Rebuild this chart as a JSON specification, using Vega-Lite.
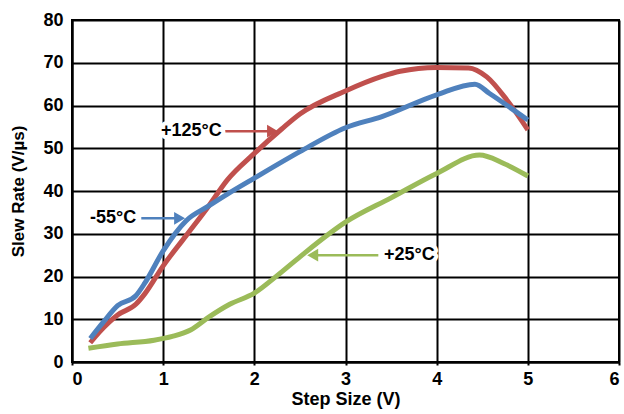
{
  "$schema": "https://vega.github.io/schema/vega-lite/v6.json",
  "autosize": "none",
  "width": 547,
  "height": 342,
  "padding": {"left": 72, "top": 20, "right": 5, "bottom": 52},
  "background": "white",
  "config": {
    "view": {"stroke": "black", "strokeWidth": 2},
    "font": "Liberation Sans"
  },
  "datasets": {
    "curves": [
      {"series": "+125°C", "step": 0.2, "rate": 4.5},
      {"series": "+125°C", "step": 0.3, "rate": 7},
      {"series": "+125°C", "step": 0.5, "rate": 11},
      {"series": "+125°C", "step": 0.7, "rate": 13.5},
      {"series": "+125°C", "step": 0.8, "rate": 16},
      {"series": "+125°C", "step": 1.0, "rate": 22.5},
      {"series": "+125°C", "step": 1.25, "rate": 29.5},
      {"series": "+125°C", "step": 1.5, "rate": 36.5},
      {"series": "+125°C", "step": 1.7, "rate": 42.5},
      {"series": "+125°C", "step": 2.0, "rate": 48.8},
      {"series": "+125°C", "step": 2.3, "rate": 54.5},
      {"series": "+125°C", "step": 2.5, "rate": 58},
      {"series": "+125°C", "step": 3.0, "rate": 63.4},
      {"series": "+125°C", "step": 3.4, "rate": 66.8},
      {"series": "+125°C", "step": 3.6, "rate": 68},
      {"series": "+125°C", "step": 4.0, "rate": 68.9},
      {"series": "+125°C", "step": 4.35, "rate": 68.8},
      {"series": "+125°C", "step": 4.55, "rate": 66.7},
      {"series": "+125°C", "step": 4.77, "rate": 61.3},
      {"series": "+125°C", "step": 5.0, "rate": 54.3},
      {"series": "-55°C", "step": 0.2, "rate": 5.5},
      {"series": "-55°C", "step": 0.35, "rate": 9.5},
      {"series": "-55°C", "step": 0.5, "rate": 13.2},
      {"series": "-55°C", "step": 0.7, "rate": 15.5},
      {"series": "-55°C", "step": 0.8, "rate": 18.5},
      {"series": "-55°C", "step": 1.0, "rate": 26},
      {"series": "-55°C", "step": 1.25, "rate": 33},
      {"series": "-55°C", "step": 1.5, "rate": 36.5},
      {"series": "-55°C", "step": 1.7, "rate": 39.2},
      {"series": "-55°C", "step": 2.0, "rate": 43},
      {"series": "-55°C", "step": 2.5, "rate": 49.2},
      {"series": "-55°C", "step": 3.0, "rate": 54.8},
      {"series": "-55°C", "step": 3.4, "rate": 57.4},
      {"series": "-55°C", "step": 4.0, "rate": 62.5},
      {"series": "-55°C", "step": 4.42, "rate": 65},
      {"series": "-55°C", "step": 4.58, "rate": 62.8},
      {"series": "-55°C", "step": 5.0, "rate": 56.6},
      {"series": "+25°C", "step": 0.18, "rate": 3.2},
      {"series": "+25°C", "step": 0.5, "rate": 4.2},
      {"series": "+25°C", "step": 0.9, "rate": 5.1},
      {"series": "+25°C", "step": 1.1, "rate": 6.0},
      {"series": "+25°C", "step": 1.3, "rate": 7.5},
      {"series": "+25°C", "step": 1.5, "rate": 10.5},
      {"series": "+25°C", "step": 1.73, "rate": 13.5},
      {"series": "+25°C", "step": 2.0, "rate": 16.1},
      {"series": "+25°C", "step": 2.25, "rate": 20.2},
      {"series": "+25°C", "step": 2.5, "rate": 24.6},
      {"series": "+25°C", "step": 3.0, "rate": 32.7},
      {"series": "+25°C", "step": 3.5, "rate": 38.4},
      {"series": "+25°C", "step": 4.0, "rate": 44.1},
      {"series": "+25°C", "step": 4.47, "rate": 48.4},
      {"series": "+25°C", "step": 4.73, "rate": 46.5},
      {"series": "+25°C", "step": 5.0, "rate": 43.5}
    ],
    "labels": [
      {"series": "+125°C", "tx": 1.31, "ty": 54, "x1": 1.68, "x2": 2.16, "y": 54, "tip": 2.2, "shape": "triangle-right"},
      {"series": "-55°C", "tx": 0.45, "ty": 33.6, "x1": 0.76, "x2": 1.14, "y": 33.6, "tip": 1.18, "shape": "triangle-right"},
      {"series": "+25°C", "tx": 3.7, "ty": 25, "x1": 2.68, "x2": 3.36, "y": 25, "tip": 2.64, "shape": "triangle-left"}
    ]
  },
  "layer": [
    {
      "data": {"name": "curves"},
      "mark": {"type": "line", "strokeWidth": 5, "interpolate": "monotone"},
      "encoding": {
        "x": {
          "field": "step", "type": "quantitative",
          "scale": {"domain": [0, 6], "nice": false},
          "axis": {
            "title": "Step Size (V)", "values": [0, 1, 2, 3, 4, 5, 6], "format": "d",
            "grid": true, "gridColor": "black", "gridWidth": 2, "gridOpacity": 1,
            "domainColor": "black", "domainWidth": 2,
            "tickColor": "black", "tickSize": 3, "tickWidth": 2,
            "labelFont": "Liberation Sans", "labelFontWeight": "bold", "labelFontSize": 18, "labelColor": "black",
            "labelPadding": 5,
            "titleFont": "Liberation Sans", "titleFontWeight": "bold", "titleFontSize": 18, "titleColor": "black",
            "titlePadding": 2
          }
        },
        "y": {
          "field": "rate", "type": "quantitative",
          "scale": {"domain": [0, 80], "nice": false},
          "axis": {
            "title": "Slew Rate (V/µs)", "values": [0, 10, 20, 30, 40, 50, 60, 70, 80], "format": "d",
            "grid": true, "gridColor": "black", "gridWidth": 2, "gridOpacity": 1,
            "domainColor": "black", "domainWidth": 2,
            "ticks": false,
            "labelFont": "Liberation Sans", "labelFontWeight": "bold", "labelFontSize": 18, "labelColor": "black",
            "labelPadding": 9,
            "titleFont": "Liberation Sans", "titleFontWeight": "bold", "titleFontSize": 17, "titleColor": "black",
            "titlePadding": 15
          }
        },
        "color": {
          "field": "series", "type": "nominal",
          "scale": {"domain": ["+125°C", "-55°C", "+25°C"], "range": ["#C0504D", "#4F81BD", "#9BBB59"]},
          "legend": null
        }
      }
    },
    {
      "data": {"name": "labels"},
      "mark": {"type": "rule", "strokeWidth": 2.5},
      "encoding": {
        "x": {"field": "x1", "type": "quantitative"},
        "x2": {"field": "x2"},
        "y": {"field": "y", "type": "quantitative"},
        "color": {"field": "series", "type": "nominal", "legend": null}
      }
    },
    {
      "data": {"name": "labels"},
      "mark": {"type": "point", "filled": true, "opacity": 1, "size": 160},
      "encoding": {
        "x": {"field": "tip", "type": "quantitative"},
        "y": {"field": "y", "type": "quantitative"},
        "shape": {"field": "shape", "type": "nominal", "scale": null},
        "color": {"field": "series", "type": "nominal", "legend": null}
      }
    },
    {
      "data": {"name": "labels"},
      "mark": {"type": "text", "font": "Liberation Sans", "fontWeight": "bold", "fontSize": 18, "color": "white", "stroke": "white", "strokeWidth": 8, "strokeJoin": "round", "align": "center", "baseline": "middle"},
      "encoding": {
        "x": {"field": "tx", "type": "quantitative"},
        "y": {"field": "ty", "type": "quantitative"},
        "text": {"field": "series"}
      }
    },
    {
      "data": {"name": "labels"},
      "mark": {"type": "text", "font": "Liberation Sans", "fontWeight": "bold", "fontSize": 18, "color": "black", "align": "center", "baseline": "middle"},
      "encoding": {
        "x": {"field": "tx", "type": "quantitative"},
        "y": {"field": "ty", "type": "quantitative"},
        "text": {"field": "series"}
      }
    }
  ]
}
